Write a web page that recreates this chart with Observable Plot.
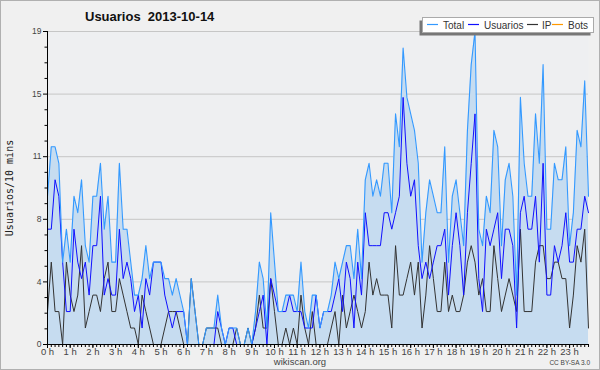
<!DOCTYPE html>
<html><head><meta charset="utf-8">
<script src="https://cdn.jsdelivr.net/npm/d3@7"></script>
<script src="https://cdn.jsdelivr.net/npm/@observablehq/plot@0.6"></script>
<style>
body{margin:0;background:#f0f0f0;}
#wrap{position:relative;width:600px;height:370px;background:#f0f0f0;outline:1px solid #b0b0b0;outline-offset:-1px;overflow:hidden;}
#wrap svg{display:block;}
</style></head>
<body><div id="wrap"></div>
<script>
const title = "Usuarios\u00a0\u00a02013-10-14";
const yTitle = "Usuarios/10 mins";
const seriesNames = ["Total", "Usuarios", "IP", "Bots"];
const seriesColors = ["#3399ff", "#1010ff", "#333333", "#ff9900"];

const total = [9,12,12,11,5,7,5,9,8,10,6,5,9,9,11,7,9,5,5,11,7,7,5,3,
  3,4,6,4,5,5,5,4,4,3,4,3,2,0,4,2,0,0,1,1,1,3,1,0,
  1,1,1,0,0,1,0,2,5,4,1,8,5,2,2,3,3,3,2,5,2,1,3,3,
  1,2,2,3,5,4,5,6,6,4,7,4,10,11,9,10,9,11,11,8,14,12,18,
  15,14,13,11,5,8,10,9,8,8,12,5,9,10,8,6,13,17,19,7,6,9,8,13,
  12,6,10,11,9,3,15,11,9,9,14,11,17,7,7,11,10,10,12,6,8,13,12,16,9];
const usuarios = [7,7,10,9,5,2,2,7,5,4,5,3,6,6,9,3,4,3,3,7,4,5,4,2,
  3,1,4,3,5,5,5,3,2,1,2,2,2,0,0,0,0,0,0,0,0,2,1,0,
  1,1,0,0,0,0,0,1,2,3,0,4,3,2,2,2,3,2,2,2,1,1,1,3,
  1,2,2,2,3,4,2,5,4,1,5,3,8,6,6,6,6,8,8,7,8,9,15,
  11,9,10,6,4,5,4,5,6,6,7,3,6,8,6,3,8,11,14,4,2,7,6,7,
  8,4,7,7,6,1,8,9,7,7,9,5,11,3,3,6,5,6,8,5,5,7,7,9,8];
const ip = [2,5,2,2,0,5,3,2,3,6,1,2,3,3,2,4,5,2,2,4,3,2,1,1,
  0,3,2,1,0,0,0,1,2,2,2,1,0,0,4,2,0,0,1,1,1,1,0,0,
  0,0,1,0,0,1,0,1,3,1,1,4,2,0,0,1,0,1,0,3,1,0,2,0,
  0,0,0,1,2,0,3,1,2,3,2,1,2,5,3,4,3,3,3,1,6,3,3,
  4,5,3,5,1,3,6,4,2,2,5,2,3,2,2,3,5,6,5,3,4,2,2,6,
  4,2,3,4,3,2,7,2,2,2,5,6,6,4,4,5,5,4,4,1,3,6,5,7,1];
const bots = [0,0,0,0,0,0,0,0,0,0,0,0,0,0,0,0,0,0,0,0,0,0,0,0,
  0,0,0,0,0,0,0,0,0,0,0,0,0,0,0,0,0,0,0,0,0,0,0,0,
  0,0,0,0,0,0,0,0,0,0,0,0,0,0,0,0,0,0,0,0,0,0,0,0,
  0,0,0,0,0,0,0,0,0,0,0,0,0,0,0,0,0,0,0,0,0,0,0,0,
  0,0,0,0,0,0,0,0,0,0,0,0,0,0,0,0,0,0,0,0,0,0,0,0,
  0,0,0,0,0,0,0,0,0,0,0,0,0,0,0,0,0,0,0,0,0,0,0,0];

const hourTicks = [0,1,2,3,4,5,6,7,8,9,10,11,12,13,14,15,16,17,18,19,20,21,22,23];
const yTicks = [0, 3.8, 7.6, 11.4, 15.2, 19];
const yTickLabels = ["0", "4", "8", "11", "15", "19"];
const yMinorTicks = [0.95,1.9,2.85, 4.75,5.7,6.65, 8.55,9.5,10.45, 12.35,13.3,14.25, 16.15,17.1,18.05];

const data = total.map((t, i) => ({h: i / 6, total: t, usuarios: usuarios[i], ip: ip[i], bots: bots[i]}));
const slotTicks = data.map(d => d.h);
const yLabel = new Map(yTicks.map((v, i) => [v, yTickLabels[i]]));

const chart = Plot.plot({
  width: 600, height: 370,
  marginLeft: 47, marginRight: 12, marginTop: 31, marginBottom: 26,
  style: {background: "transparent", fontFamily: "'Liberation Sans', Arial, sans-serif", overflow: "visible"},
  x: {domain: [0, 143 / 6], axis: null, label: null},
  y: {domain: [0, 19], axis: null, label: null},
  marks: [
    Plot.frame({fill: "#eeeff1", stroke: null}),
    Plot.gridY(yTicks.slice(1), {stroke: "#c6c6c6", strokeOpacity: 1}),
    Plot.areaY(data, {x: "h", y: "total", fill: "#c6dcf0", fillOpacity: 1}),
    Plot.lineY(data, {x: "h", y: "bots", stroke: seriesColors[3], strokeWidth: 1}),
    Plot.lineY(data, {x: "h", y: "ip", stroke: seriesColors[2], strokeWidth: 1}),
    Plot.lineY(data, {x: "h", y: "usuarios", stroke: seriesColors[1], strokeWidth: 1}),
    Plot.lineY(data, {x: "h", y: "total", stroke: seriesColors[0], strokeWidth: 1.1}),
    Plot.ruleX([0], {stroke: "#000"}),
    Plot.ruleY([0], {stroke: "#000"}),
    Plot.axisY({ticks: yMinorTicks, tickSize: 2.5, tickFormat: () => "", stroke: "#000", label: null}),
    Plot.axisY({ticks: yTicks, tickSize: 4, tickPadding: 2, tickFormat: d => yLabel.get(d), fontSize: 8.5, fill: "#444", stroke: "#000", label: null}),
    Plot.axisX({ticks: slotTicks, tickSize: 3, tickFormat: () => "", stroke: "#000", label: null}),
    Plot.axisX({ticks: hourTicks, tickSize: 4, tickPadding: 0, tickFormat: d => `${d} h`, fontSize: 9.5, fill: "#444", stroke: "#000", label: null})
  ]
});

document.getElementById("wrap").appendChild(chart);

const svg = d3.select(chart);
const g = svg.append("g").attr("text-anchor", "start");
g.append("text").attr("x", 85).attr("y", 21).attr("text-anchor", "start").attr("font-family", "'Liberation Sans', Arial, sans-serif")
  .attr("font-size", 13).attr("font-weight", "bold").attr("fill", "#111").text(title);
g.append("text").attr("transform", "translate(13,188) rotate(-90)").attr("text-anchor", "middle")
  .attr("font-family", "'DejaVu Sans Mono', monospace").attr("font-size", 10).attr("fill", "#222").text(yTitle);

// legend
g.append("rect").attr("x", 419.5).attr("y", 20.5).attr("width", 171).attr("height", 15).attr("fill", "#777");
g.append("rect").attr("x", 422.5).attr("y", 17.5).attr("width", 171).attr("height", 15).attr("fill", "#fff").attr("stroke", "#aaa");
const itemX = [427, 468, 527, 552];
const textX = [443, 484, 542, 568];
seriesNames.forEach((name, i) => {
  g.append("line").attr("x1", itemX[i]).attr("x2", itemX[i] + 11).attr("y1", 24.5).attr("y2", 24.5)
    .attr("stroke", seriesColors[i]).attr("stroke-width", 1.2);
  g.append("text").attr("x", textX[i]).attr("y", 28.5).attr("text-anchor", "start").attr("font-family", "'Liberation Sans', Arial, sans-serif")
    .attr("font-size", 10).attr("fill", "#333").text(name);
});

g.append("text").attr("x", 300).attr("y", 365).attr("text-anchor", "middle").attr("font-family", "'Liberation Sans', Arial, sans-serif")
  .attr("font-size", 9.5).attr("fill", "#444").text("wikiscan.org");
g.append("text").attr("x", 590).attr("y", 365).attr("text-anchor", "end").attr("font-family", "'Liberation Sans', Arial, sans-serif")
  .attr("font-size", 6.5).attr("fill", "#444").text("CC BY-SA 3.0");
</script>
</body></html>
